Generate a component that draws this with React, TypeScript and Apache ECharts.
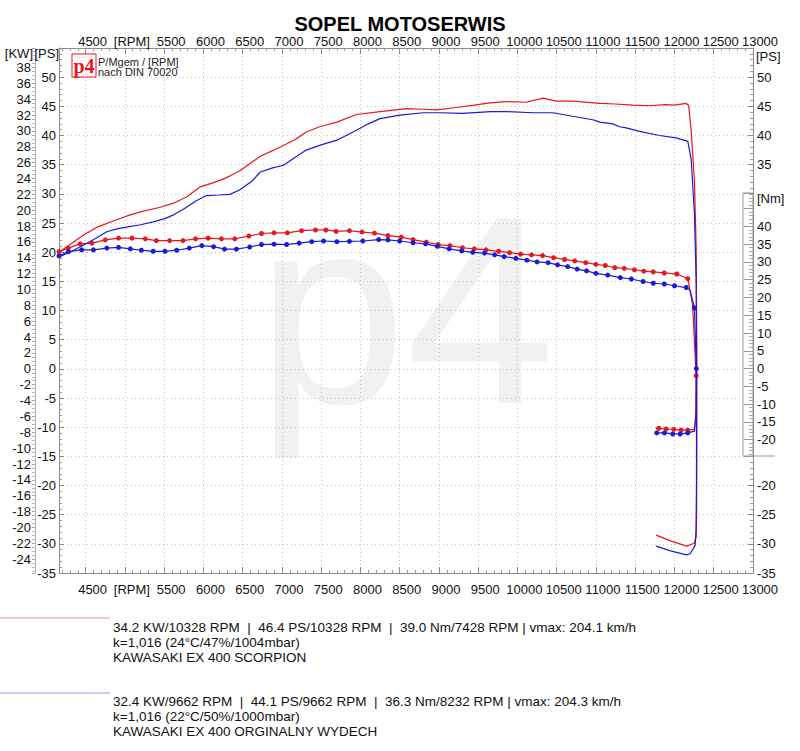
import React, { useEffect, useRef } from 'react';
import * as echarts from 'echarts';

const RPM_MIN = 4161;
const RPM_MAX = 13000;
const PS_MIN = -35;
const PS_MAX = 55;
const KW_PER_PS = 0.7355;
const NM_MIN = -24.6;
const NM_MAX = 49.4;

const RED = '#e8161e';
const BLUE = '#1a1ad8';
const FONT = 'Liberation Sans';

// power curves [rpm, PS] (run up, drop, then loss curve back down the rpm range)
const scorpionPower = [
  [4161, 20.0], [4300, 21.3], [4470, 22.9], [4650, 24.3], [4900, 25.6], [5050, 26.3],
  [5200, 26.9], [5450, 27.7], [5620, 28.4], [5790, 29.5], [5960, 31.2], [6100, 31.8],
  [6210, 32.3], [6330, 33.0], [6470, 34.0], [6720, 36.4], [6880, 37.4], [7020, 38.3],
  [7180, 39.4], [7310, 40.6], [7480, 41.5], [7700, 42.3], [7950, 43.6], [8250, 44.1],
  [8590, 44.6], [8800, 44.5], [8970, 44.4], [9220, 44.8], [9450, 45.2], [9650, 45.6],
  [9860, 45.8], [10110, 45.7], [10328, 46.4], [10490, 45.9], [10710, 45.9], [11050, 45.5],
  [11250, 45.4], [11470, 45.2], [11680, 45.1], [11890, 45.3], [12000, 45.2], [12150, 45.5],
  [12180, 45.2], [12212, 40.9], [12254, 32.3], [12276, 20.9], [12284, 5], [12285, -10],
  [12282, -25], [12276, -28.8], [12250, -29.9], [12156, -30.4], [11950, -29.5], [11767, -28.5],
];
const originalPower = [
  [4161, 19.2], [4300, 20.0], [4470, 21.2], [4620, 22.3], [4770, 23.5], [4900, 24.0],
  [5020, 24.3], [5200, 24.7], [5360, 25.2], [5500, 25.7], [5620, 26.4], [5760, 27.5],
  [5910, 28.8], [6040, 29.7], [6200, 29.8], [6340, 29.9], [6465, 30.7], [6630, 32.3],
  [6720, 33.7], [6870, 34.4], [7020, 34.9], [7160, 36.2], [7310, 37.5], [7500, 38.4],
  [7700, 39.2], [7950, 40.9], [8100, 42.0], [8250, 42.9], [8500, 43.5], [8800, 43.9],
  [9010, 43.9], [9300, 43.8], [9662, 44.1], [9860, 44.1], [10200, 43.9], [10450, 43.9],
  [10700, 43.3], [10960, 42.7], [11050, 42.3], [11215, 42.0], [11300, 41.5], [11385, 41.3],
  [11554, 40.7], [11810, 40.0], [12020, 39.6], [12170, 39.0], [12212, 36.0], [12254, 26.6],
  [12276, 15.2], [12281, 0], [12280, -20], [12274, -28], [12262, -30.3], [12200, -31.7],
  [12156, -31.9], [11950, -31.2], [11767, -30.4],
];

// torque curves [rpm, Nm, marker]
const scorpionTorque = [
  [4161, 32.9, 1], [4280, 33.9, 1], [4430, 35.1, 1], [4580, 35.3, 1], [4750, 36.2, 1],
  [4920, 36.7, 1], [5090, 36.7, 1], [5260, 36.5, 1], [5400, 36.0, 1], [5570, 36.0, 1],
  [5740, 36.0, 1], [5900, 36.5, 1], [6060, 36.7, 1], [6230, 36.5, 1], [6400, 36.5, 1],
  [6580, 37.3, 1], [6740, 38.0, 1], [6900, 38.2, 1], [7070, 38.2, 1], [7250, 38.8, 1],
  [7428, 39.0, 1], [7560, 39.0, 1], [7690, 38.6, 1], [7860, 38.8, 1], [8020, 38.4, 1],
  [8180, 38.1, 1], [8350, 37.4, 1], [8520, 37.0, 1], [8670, 36.3, 1], [8840, 35.6, 1],
  [8990, 34.9, 1], [9140, 34.6, 1], [9300, 34.0, 1], [9450, 33.7, 1], [9600, 33.4, 1],
  [9760, 33.0, 1], [9900, 32.6, 1], [10040, 32.2, 1], [10180, 32.0, 1], [10320, 31.8, 1],
  [10460, 31.2, 1], [10600, 30.7, 1], [10730, 30.3, 1], [10870, 29.8, 1], [11000, 29.3, 1],
  [11120, 29.0, 1], [11240, 28.4, 1], [11360, 28.2, 1], [11490, 27.8, 1], [11610, 27.4, 1],
  [11730, 27.2, 1], [11870, 26.9, 1], [12030, 26.6, 1], [12170, 25.3, 1], [12230, 18, 0],
  [12276, -2.0, 1], [12272, -14, 0], [12250, -17.1, 0], [12169, -17.3, 1], [12084, -17.3, 1],
  [11991, -17.1, 1], [11894, -17.0, 1], [11800, -16.8, 1], [11760, -16.8, 0],
];
const originalTorque = [
  [4161, 31.7, 1], [4280, 32.9, 1], [4450, 33.4, 1], [4600, 33.4, 1], [4770, 33.9, 1],
  [4920, 34.1, 1], [5070, 33.7, 1], [5210, 33.3, 1], [5360, 33.0, 1], [5510, 33.0, 1],
  [5660, 33.3, 1], [5820, 33.9, 1], [5980, 34.6, 1], [6130, 34.3, 1], [6270, 33.6, 1],
  [6420, 33.6, 1], [6590, 34.2, 1], [6740, 34.9, 1], [6900, 35.0, 1], [7060, 34.9, 1],
  [7220, 35.3, 1], [7380, 35.7, 1], [7530, 35.9, 1], [7700, 35.7, 1], [7860, 35.8, 1],
  [8030, 35.9, 1], [8232, 36.3, 1], [8350, 36.2, 1], [8500, 35.9, 1], [8670, 35.4, 1],
  [8830, 35.1, 1], [8980, 34.4, 1], [9130, 33.7, 1], [9290, 33.1, 1], [9430, 32.7, 1],
  [9580, 32.5, 1], [9710, 32.0, 1], [9830, 31.5, 1], [9980, 31.0, 1], [10120, 30.5, 1],
  [10250, 30.0, 1], [10390, 29.8, 1], [10510, 29.2, 1], [10640, 28.7, 1], [10760, 28.0, 1],
  [10880, 27.5, 1], [11000, 26.8, 1], [11150, 26.3, 1], [11310, 25.6, 1], [11450, 25.2, 1],
  [11600, 24.5, 1], [11730, 24.0, 1], [11870, 23.8, 1], [12000, 23.3, 1], [12150, 22.8, 1],
  [12200, 22.0, 0], [12254, 17.1, 1], [12278, 0, 1], [12275, -12, 0], [12255, -17.6, 0],
  [12169, -18.1, 1], [12073, -18.4, 1], [11978, -18.4, 1], [11872, -18.1, 1], [11774, -18.1, 1],
];

const scorpionInfo = [
  '34.2 KW/10328 RPM  |  46.4 PS/10328 RPM  |  39.0 Nm/7428 RPM | vmax: 204.1 km/h',
  'k=1,016 (24°C/47%/1004mbar)',
  'KAWASAKI EX 400 SCORPION',
];
const originalInfo = [
  '32.4 KW/9662 RPM  |  44.1 PS/9662 RPM  |  36.3 Nm/8232 RPM | vmax: 204.3 km/h',
  'k=1,016 (22°C/50%/1000mbar)',
  'KAWASAKI EX 400 ORGINALNY WYDECH',
];

const isStep = (v: number, step: number) => Math.abs(v / step - Math.round(v / step)) < 1e-6;

const rpmLabel = (v: number) => (v === 5000 ? '[RPM]' : isStep(v, 500) ? String(v) : '');

const torqueData = (pts: number[][]) =>
  pts.map(([r, v, m]) => ({ value: [r, v], symbol: m ? 'circle' : 'none' }));

const labelStyle = { color: '#111', fontSize: 13, fontFamily: FONT };
const grayLine = { onZero: false, lineStyle: { color: '#8a8a8a', width: 1 } };

const App: React.FC = () => {
  const chartRef = useRef<HTMLDivElement>(null);

  useEffect(() => {
    if (!chartRef.current) return;
    const chart = echarts.init(chartRef.current, undefined, { renderer: 'svg' });

    const infoText = (lines: string[], y0: number) =>
      lines.map((t, i) => ({
        type: 'text',
        x: 113,
        y: y0 + i * 15,
        style: { text: t, fontSize: 13.5, fontFamily: FONT, fill: '#111', verticalAlign: 'middle' },
      }));

    chart.setOption({
      animation: false,
      backgroundColor: '#fff',
      title: {
        text: 'SOPEL MOTOSERWIS',
        left: 'center',
        top: 14,
        padding: 0,
        textStyle: { fontSize: 20, fontWeight: 'bold', fontFamily: FONT, color: '#000', lineHeight: 20 },
      },
      grid: [
        { left: 59, right: 47, top: 48, bottom: 178, outerBoundsMode: 'none' },
        { left: 59, right: 47, top: 193, height: 263, outerBoundsMode: 'none' },
      ],
      xAxis: [
        {
          type: 'value', gridIndex: 0, position: 'bottom', min: RPM_MIN, max: RPM_MAX,
          splitNumber: 18, minInterval: 500, maxInterval: 500,
          axisLine: grayLine,
          axisTick: { inside: true, length: 6, lineStyle: { color: '#8a8a8a' } },
          minorTick: { show: true, splitNumber: 5, length: 3, lineStyle: { color: '#9a9a9a' } },
          axisLabel: {
            ...labelStyle, margin: 10, padding: [0, 0, 0, 14], showMaxLabel: true, hideOverlap: false,
            formatter: rpmLabel,
          },
          splitLine: { show: true, lineStyle: { color: '#c4c4c4', type: [1, 3] } },
        },
        {
          type: 'value', gridIndex: 0, position: 'top', min: RPM_MIN, max: RPM_MAX,
          splitNumber: 18, minInterval: 500, maxInterval: 500,
          axisLine: grayLine,
          axisTick: { inside: true, length: 6, lineStyle: { color: '#8a8a8a' } },
          minorTick: { show: true, splitNumber: 5, length: 3, lineStyle: { color: '#9a9a9a' } },
          axisLabel: {
            ...labelStyle, margin: 0, padding: [0, 0, 0, 14], showMaxLabel: true, hideOverlap: false,
            formatter: rpmLabel,
          },
          splitLine: { show: false },
        },
        {
          type: 'value', gridIndex: 1, min: RPM_MIN, max: RPM_MAX, show: false,
        },
      ],
      yAxis: [
        {
          type: 'value', gridIndex: 0, position: 'left', offset: 24,
          min: PS_MIN * KW_PER_PS, max: PS_MAX * KW_PER_PS,
          splitNumber: 33, minInterval: 2, maxInterval: 2,
          name: '[KW]', nameLocation: 'end', nameGap: -5, nameMoveOverlap: false,
          nameTextStyle: { ...labelStyle, align: 'right', verticalAlign: 'middle', padding: [0, 2, 0, 0] },
          axisLine: { onZero: false, lineStyle: { color: '#b0b0b0' } },
          axisTick: { inside: false, length: 3, lineStyle: { color: '#a8a8a8' } },
          minorTick: { show: true, splitNumber: 4, length: 3, lineStyle: { color: '#b8b8b8' } },
          axisLabel: {
            ...labelStyle, margin: 4, padding: [5, 0, 0, 0],
            formatter: (v: number) => (isStep(v, 2) && v < 39 ? String(Math.round(v)) : ''),
          },
          splitLine: { show: false },
        },
        {
          type: 'value', gridIndex: 0, position: 'left', min: PS_MIN, max: PS_MAX, interval: 5,
          name: '[PS]', nameLocation: 'end', nameGap: -5, nameMoveOverlap: false,
          nameTextStyle: { ...labelStyle, align: 'right', verticalAlign: 'middle' },
          axisLine: grayLine,
          axisTick: { inside: true, length: 5, lineStyle: { color: '#8a8a8a' } },
          minorTick: { show: true, splitNumber: 5, length: 3, lineStyle: { color: '#9a9a9a' } },
          axisLabel: {
            ...labelStyle, margin: 3, padding: [5, 0, 0, 0],
            formatter: (v: number) => (v <= 50 ? String(v) : ''),
          },
          splitLine: { show: true, lineStyle: { color: '#c4c4c4', type: [1, 3] } },
        },
        {
          type: 'value', gridIndex: 0, position: 'right', min: PS_MIN, max: PS_MAX, interval: 5,
          name: '[PS]', nameLocation: 'end', nameGap: -8, nameMoveOverlap: false,
          nameTextStyle: { ...labelStyle, align: 'left', verticalAlign: 'middle', padding: [0, 0, 0, 3] },
          axisLine: grayLine,
          axisTick: { inside: true, length: 5, lineStyle: { color: '#8a8a8a' } },
          minorTick: { show: true, splitNumber: 5, length: 3, lineStyle: { color: '#9a9a9a' } },
          axisLabel: {
            ...labelStyle, margin: 4, padding: [5, 0, 0, 0],
            formatter: (v: number) => (v <= 50 && (v >= 35 || v <= -20) ? String(v) : ''),
          },
          splitLine: { show: false },
        },
        {
          type: 'value', gridIndex: 1, position: 'right', min: NM_MIN, max: NM_MAX,
          splitNumber: 15, minInterval: 5, maxInterval: 5, z: 10,
          name: '[Nm]', nameLocation: 'end', nameGap: -5, nameMoveOverlap: false,
          nameTextStyle: { ...labelStyle, align: 'left', verticalAlign: 'middle', padding: [0, 0, 0, 4] },
          axisLine: grayLine,
          axisTick: { inside: true, length: 9, lineStyle: { color: '#999' } },
          minorTick: { show: true, splitNumber: 5, length: 4, lineStyle: { color: '#aaa' } },
          axisLabel: {
            ...labelStyle, margin: 4, padding: [5, 0, 0, 0],
            formatter: (v: number) => (isStep(v, 5) && v <= 40 ? String(Math.round(v)) : ''),
          },
          splitLine: { show: false },
        },
      ],
      series: [
        {
          name: 'P scorpion', type: 'line', xAxisIndex: 0, yAxisIndex: 1, data: scorpionPower,
          symbol: 'none', clip: false, lineStyle: { color: RED, width: 1.2 }, z: 3,
        },
        {
          name: 'P original', type: 'line', xAxisIndex: 0, yAxisIndex: 1, data: originalPower,
          symbol: 'none', clip: false, lineStyle: { color: BLUE, width: 1.2 }, z: 4,
        },
        {
          name: 'M scorpion', type: 'line', xAxisIndex: 2, yAxisIndex: 3, data: torqueData(scorpionTorque),
          symbolSize: 5, showAllSymbol: true, clip: false, itemStyle: { color: RED },
          lineStyle: { color: RED, width: 1.2 }, z: 3,
        },
        {
          name: 'M original', type: 'line', xAxisIndex: 2, yAxisIndex: 3, data: torqueData(originalTorque),
          symbolSize: 5, showAllSymbol: true, clip: false, itemStyle: { color: BLUE },
          lineStyle: { color: BLUE, width: 1.2 }, z: 4,
        },
      ],
      graphic: [
        {
          type: 'text', x: 406, y: 310, z: -10, silent: true,
          style: { text: 'p4', fontSize: 268, fontFamily: FONT, fill: '#f1f1f1', align: 'center', verticalAlign: 'middle' },
        },
        {
          type: 'rect', z: 5, shape: { x: 743, y: 193, width: 10, height: 263 },
          style: { fill: '#fff', stroke: '#999', lineWidth: 1 },
        },
        { type: 'line', z: 5, shape: { x1: 753, y1: 456, x2: 775, y2: 456 }, style: { stroke: '#999', lineWidth: 1 } },
        {
          type: 'rect', z: 5, shape: { x: 72, y: 54, width: 24, height: 23 },
          style: { fill: '#fff', stroke: RED, lineWidth: 1 },
        },
        { type: 'line', z: 6, shape: { x1: 75, y1: 57, x2: 93, y2: 57 }, style: { stroke: '#c88', lineWidth: 0.6, lineDash: [1, 1] } },
        { type: 'line', z: 6, shape: { x1: 75, y1: 74, x2: 93, y2: 74 }, style: { stroke: '#c88', lineWidth: 0.6, lineDash: [1, 1] } },
        {
          type: 'text', z: 6, x: 84, y: 66,
          style: { text: 'p4', fontSize: 20, fontWeight: 'bold', fontFamily: 'Liberation Serif', fill: RED, align: 'center', verticalAlign: 'middle' },
        },
        {
          type: 'text', z: 6, x: 98, y: 61.5,
          style: { text: 'P/Mgem / [RPM]', fontSize: 11, lineHeight: 10, fontFamily: FONT, fill: '#222', verticalAlign: 'middle' },
        },
        {
          type: 'text', z: 6, x: 98, y: 72,
          style: { text: 'nach DIN 70020', fontSize: 11, lineHeight: 10, fontFamily: FONT, fill: '#222', verticalAlign: 'middle' },
        },
        { type: 'line', shape: { x1: 0, y1: 618, x2: 110, y2: 618 }, style: { stroke: '#f08c8c', lineWidth: 1 } },
        ...infoText(scorpionInfo, 627),
        { type: 'line', shape: { x1: 0, y1: 693, x2: 110, y2: 693 }, style: { stroke: '#9c9cf0', lineWidth: 1 } },
        ...infoText(originalInfo, 701),
      ],
    });

    return () => {
      chart.dispose();
    };
  }, []);

  return (
    <div
      ref={chartRef}
      style={{ position: 'absolute', left: 0, top: 0, width: '800px', height: '751px' }}
    ></div>
  );
};

export default App;
